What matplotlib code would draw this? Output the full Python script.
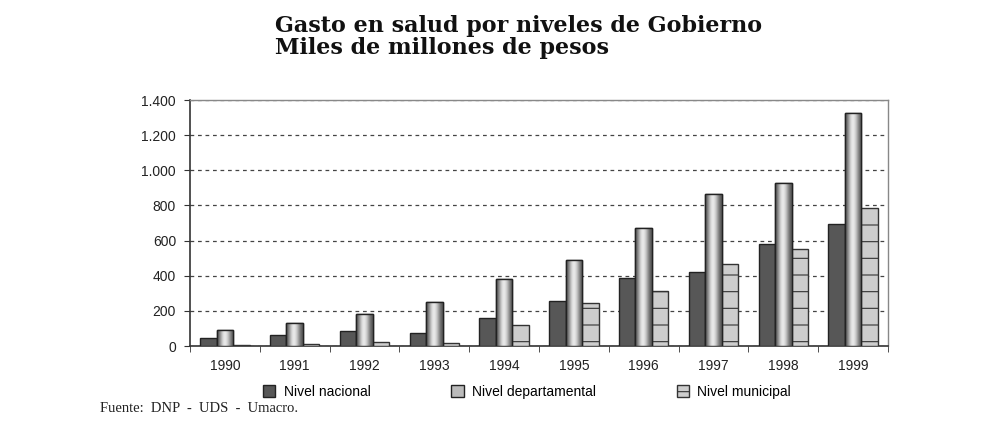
import numpy as np
import matplotlib.pyplot as plt
from matplotlib.ticker import FuncFormatter

# Data (miles de millones de pesos)
years = ['1990', '1991', '1992', '1993', '1994', '1995', '1996', '1997', '1998', '1999']
nacional = [47, 63, 83, 76, 159, 256, 389, 423, 582, 692]
departamental = [91, 131, 180, 250, 381, 491, 672, 867, 928, 1324]
municipal = [3, 10, 22, 15, 118, 243, 311, 465, 552, 783]

plt.rcParams['hatch.color'] = '#666666'
plt.rcParams['hatch.linewidth'] = 0.8

fig = plt.figure(figsize=(9.93, 4.29), dpi=100)
ax = fig.add_axes([190 / 993, 1 - 346 / 429, 698 / 993, 246 / 429])

x = np.arange(len(years))
w = 0.235
b1 = ax.bar(x - w, nacional, w, color='#575757', edgecolor='#222222', linewidth=1, zorder=3,
            label='Nivel nacional')
b2 = ax.bar(x, departamental, w, color='#bbbbbb', edgecolor='#222222', linewidth=1, zorder=3,
            label='Nivel departamental')
b3 = ax.bar(x + w, municipal, w, color='#cdcdcd', edgecolor='#333333', linewidth=1, zorder=3,
            hatch='-', label='Nivel municipal')

# cylinder-like shading for the departamental bars
grad = np.array([[0.35, 0.6, 0.88, 0.93, 0.8, 0.55, 0.35]])
for p in b2:
    x0, y0 = p.get_x(), p.get_y()
    im = ax.imshow(grad, cmap='gray', vmin=0, vmax=1, aspect='auto', interpolation='bicubic',
                   extent=(x0, x0 + p.get_width(), y0, y0 + p.get_height()), zorder=3.5)
    im.set_clip_path(p)
    ax.add_patch(plt.Rectangle((x0, y0), p.get_width(), p.get_height(), fill=False,
                               edgecolor='#222222', linewidth=1, zorder=4))

ax.set_xlim(-0.5, len(years) - 0.5)
ax.set_ylim(0, 1400)
ax.set_yticks(range(0, 1401, 200))
ax.yaxis.set_major_formatter(FuncFormatter(lambda v, _: f'{int(v):,}'.replace(',', '.')))
ax.set_xticks(x)
ax.set_xticklabels(years)
ax.set_xticks(np.arange(-0.5, len(years), 1), minor=True)
ax.tick_params(axis='x', which='major', length=0, pad=9)
ax.tick_params(axis='x', which='minor', length=4, direction='out', color='#333333')
ax.tick_params(axis='y', length=4, direction='out', color='#333333', pad=6)
for lab in ax.get_xticklabels() + ax.get_yticklabels():
    lab.set_family('Liberation Sans')
    lab.set_fontsize(10)
    lab.set_color('#222222')

ax.yaxis.grid(True, linestyle=(0, (3, 3)), color='#444444', linewidth=0.9, zorder=0)
for s in ['left', 'bottom']:
    ax.spines[s].set_color('#333333')
    ax.spines[s].set_linewidth(1.2)
for s in ['top', 'right']:
    ax.spines[s].set_color('#888888')
    ax.spines[s].set_linewidth(1.0)

leg = fig.legend(handles=[b1, b2, b3], loc='center', bbox_to_anchor=(527 / 993, 1 - 392 / 429),
                 ncol=3, frameon=False, columnspacing=5.8, handlelength=0.9, handleheight=0.9,
                 handletextpad=0.6, prop={'family': 'Liberation Sans', 'size': 10})

fig.text(275 / 993, 1 - 32 / 429, 'Gasto en salud por niveles de Gobierno', family='DejaVu Serif',
         weight='bold', fontsize=16, va='baseline', ha='left', color='#111111')
fig.text(275 / 993, 1 - 54 / 429, 'Miles de millones de pesos', family='DejaVu Serif',
         weight='bold', fontsize=16, va='baseline', ha='left', color='#111111')
fig.text(100 / 993, 1 - 409 / 429, 'Fuente:  DNP  -  UDS  -  Umacro.', family='Liberation Serif',
         fontsize=10.5, va='center', ha='left', color='#222222')

fig.savefig('out.png', dpi=100)
